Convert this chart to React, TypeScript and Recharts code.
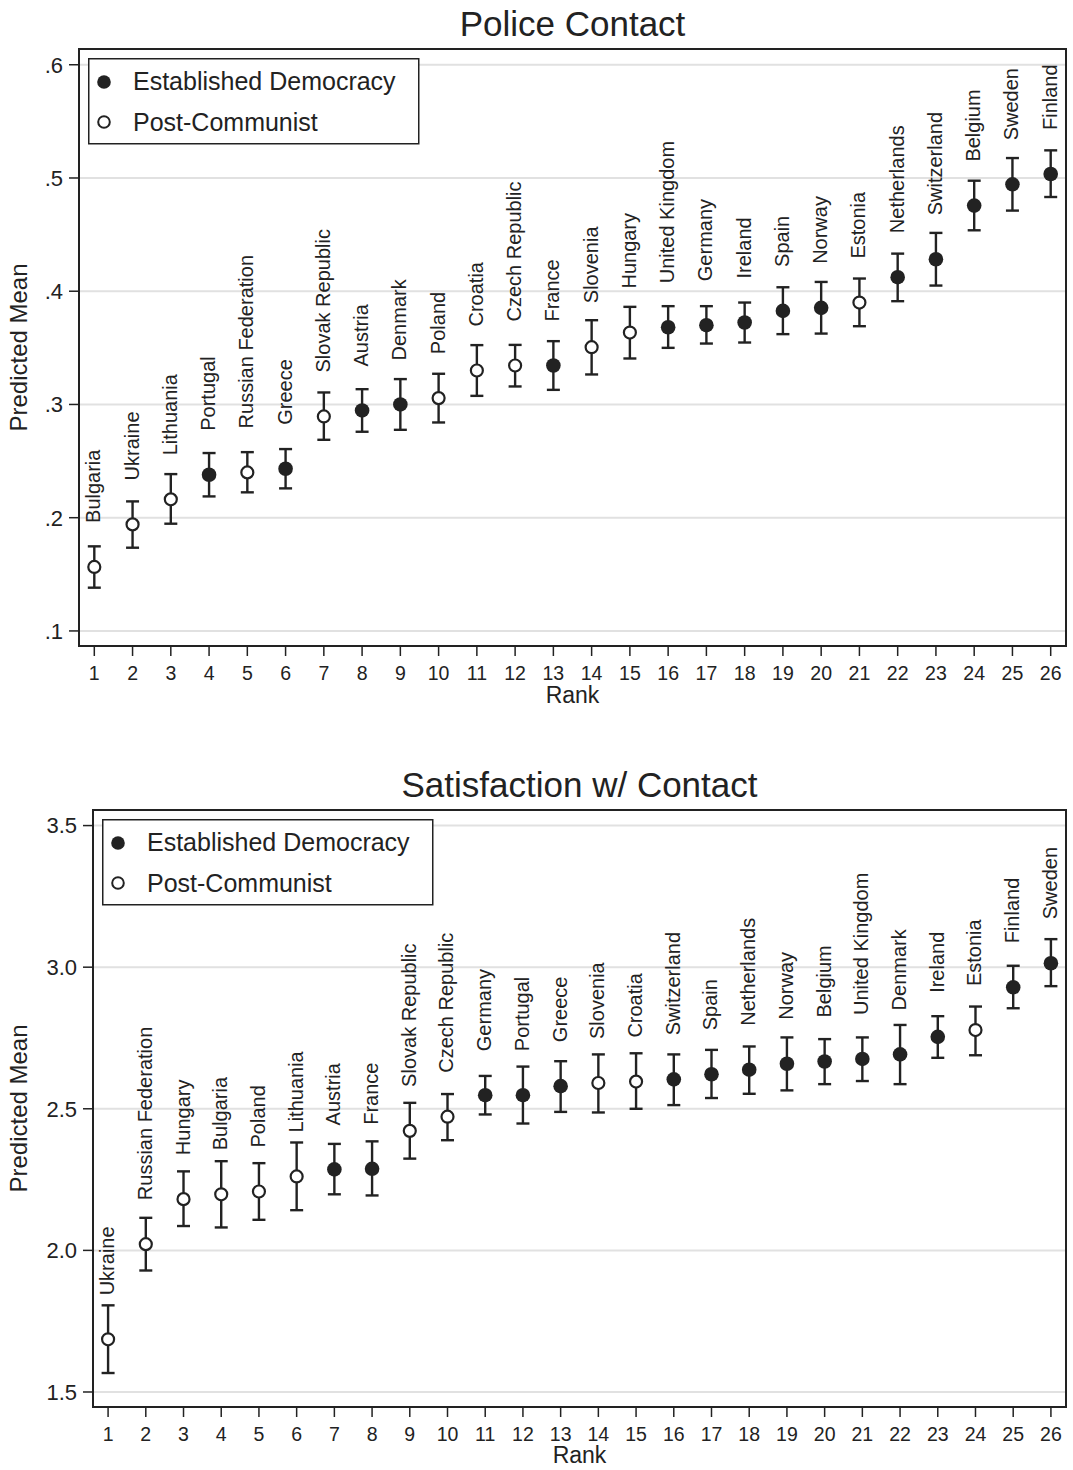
import React from 'react';
import {
  ComposedChart, Scatter, ErrorBar, XAxis, YAxis, CartesianGrid, ReferenceArea,
} from 'recharts';

const INK = '#222222';
const FONT = '"Liberation Sans", Arial, Helvetica, sans-serif';

const ranks = [1, 2, 3, 4, 5, 6, 7, 8, 9, 10, 11, 12, 13, 14, 15, 16, 17, 18, 19, 20, 21, 22, 23, 24, 25, 26];

// Police Contact
const policeCountries = [
  'Bulgaria', 'Ukraine', 'Lithuania', 'Portugal', 'Russian Federation', 'Greece',
  'Slovak Republic', 'Austria', 'Denmark', 'Poland', 'Croatia', 'Czech Republic',
  'France', 'Slovenia', 'Hungary', 'United Kingdom', 'Germany', 'Ireland', 'Spain',
  'Norway', 'Estonia', 'Netherlands', 'Switzerland', 'Belgium', 'Sweden', 'Finland',
];
const policeMean = [
  0.1565, 0.1941, 0.2162, 0.2379, 0.24, 0.2432, 0.2894, 0.2947, 0.3, 0.3056, 0.33, 0.3344,
  0.3344, 0.3506, 0.3635, 0.3682, 0.37, 0.3724, 0.3826, 0.3853, 0.39, 0.4124, 0.4282,
  0.4756, 0.4944, 0.5035,
];
const policeLow = [
  0.1382, 0.1735, 0.1947, 0.2188, 0.2224, 0.2259, 0.2688, 0.2759, 0.2776, 0.2841, 0.3076,
  0.3159, 0.3129, 0.3265, 0.3406, 0.35, 0.3538, 0.3547, 0.3621, 0.3626, 0.3691, 0.3912,
  0.405, 0.4538, 0.4712, 0.4832,
];
const policeHigh = [
  0.1747, 0.2144, 0.2385, 0.2571, 0.2579, 0.2606, 0.3106, 0.3135, 0.3224, 0.3271, 0.3524,
  0.3526, 0.3559, 0.3744, 0.3862, 0.3868, 0.3868, 0.39, 0.4035, 0.4082, 0.4112, 0.4332,
  0.4515, 0.4976, 0.5176, 0.5244,
];
// E = Established Democracy, P = Post-Communist
const policeType = [
  'P', 'P', 'P', 'E', 'P', 'E', 'P', 'E', 'E', 'P', 'P', 'P', 'E',
  'P', 'P', 'E', 'E', 'E', 'E', 'E', 'P', 'E', 'E', 'E', 'E', 'E',
];
const policeTicks = [0.1, 0.2, 0.3, 0.4, 0.5, 0.6];

// Satisfaction w/ Contact
const satisCountries = [
  'Ukraine', 'Russian Federation', 'Hungary', 'Bulgaria', 'Poland', 'Lithuania', 'Austria',
  'France', 'Slovak Republic', 'Czech Republic', 'Germany', 'Portugal', 'Greece', 'Slovenia',
  'Croatia', 'Switzerland', 'Spain', 'Netherlands', 'Norway', 'Belgium', 'United Kingdom',
  'Denmark', 'Ireland', 'Estonia', 'Finland', 'Sweden',
];
const satisMean = [
  1.686, 2.022, 2.181, 2.198, 2.208, 2.261, 2.286, 2.288, 2.422, 2.472, 2.548, 2.548, 2.58,
  2.591, 2.596, 2.604, 2.622, 2.638, 2.659, 2.667, 2.676, 2.692, 2.754, 2.778, 2.929, 3.014,
];
const satisLow = [
  1.567, 1.929, 2.086, 2.081, 2.108, 2.142, 2.198, 2.194, 2.324, 2.389, 2.48, 2.448, 2.489,
  2.487, 2.5, 2.513, 2.538, 2.553, 2.565, 2.587, 2.598, 2.587, 2.68, 2.689, 2.855, 2.933,
];
const satisHigh = [
  1.806, 2.115, 2.279, 2.315, 2.308, 2.381, 2.376, 2.385, 2.521, 2.552, 2.616, 2.649, 2.668,
  2.692, 2.696, 2.692, 2.708, 2.72, 2.752, 2.746, 2.752, 2.796, 2.827, 2.861, 3.005, 3.099,
];
const satisType = [
  'P', 'P', 'P', 'P', 'P', 'P', 'E', 'E', 'P', 'P', 'E', 'E', 'E',
  'P', 'P', 'E', 'E', 'E', 'E', 'E', 'E', 'E', 'E', 'P', 'E', 'E',
];
const satisTicks = [1.5, 2.0, 2.5, 3.0, 3.5];

type Row = { rank: number; name: string; mean: number; err: [number, number]; type: string };

const buildRows = (names: string[], mean: number[], low: number[], high: number[], type: string[]): Row[] =>
  ranks.map((r, i) => ({
    rank: r,
    name: names[i],
    mean: mean[i],
    err: [mean[i] - low[i], high[i] - mean[i]],
    type: type[i],
  }));

const makeMarker = (hollow: boolean) => (props: any) => {
  const { cx, cy, payload } = props;
  if (cx == null || cy == null) return null;
  const lx = cx - 1;
  const ly = cy - 44;
  return (
    <g>
      <circle
        cx={cx}
        cy={cy}
        r={hollow ? 6 : 7.3}
        fill={hollow ? '#ffffff' : INK}
        stroke={INK}
        strokeWidth={hollow ? 2.2 : 0}
      />
      <text
        x={lx}
        y={ly}
        transform={`rotate(-90 ${lx} ${ly})`}
        textAnchor="start"
        dominantBaseline="central"
        fontSize={20}
        fontFamily={FONT}
        fill={INK}
      >
        {payload.name}
      </text>
    </g>
  );
};

const YTitle = (props: any) => {
  const vb = props.viewBox || { x: 0, y: 0, width: 0, height: 0 };
  const x = vb.x + 18;
  const y = vb.y + vb.height / 2;
  return (
    <text x={x} y={y} transform={`rotate(-90 ${x} ${y})`} textAnchor="middle" dominantBaseline="central"
      fontSize={24} fontFamily={FONT} fill={INK}>
      Predicted Mean
    </text>
  );
};

const XTitle = (props: any) => {
  const vb = props.viewBox || { x: 0, y: 0, width: 0, height: 0 };
  return (
    <text x={vb.x + vb.width / 2} y={vb.y + props.dy0} textAnchor="middle" fontSize={23} fontFamily={FONT} fill={INK}>
      Rank
    </text>
  );
};

const LegendBox = ({ left, top }: { left: number; top: number }) => (
  <svg width={332} height={87} style={{ position: 'absolute', left, top }}>
    <rect x={0.75} y={0.75} width={330} height={85} fill="#fff" stroke={INK} strokeWidth={1.5} />
    <circle cx={16} cy={24} r={6.8} fill={INK} />
    <text x={45} y={32} fontSize={25} fontFamily={FONT} fill={INK}>Established Democracy</text>
    <circle cx={16} cy={64} r={5.8} fill="#fff" stroke={INK} strokeWidth={2} />
    <text x={45} y={72.5} fontSize={25} fontFamily={FONT} fill={INK}>Post-Communist</text>
  </svg>
);

type PanelProps = {
  top: number;
  height: number;
  title: string;
  titleTop: number;
  rows: Row[];
  yDomain: [number, number];
  yTicks: number[];
  yFormat: (v: number) => string;
  yAxisWidth: number;
  marginTop: number;
  xAxisHeight: number;
  rankDy: number;
  legendTop: number;
};

const Panel = (p: PanelProps) => {
  const filled = p.rows.filter((r) => r.type === 'E');
  const hollow = p.rows.filter((r) => r.type === 'P');
  const plotLeft = p.yAxisWidth;
  const plotRight = 1066;
  return (
    <div style={{ position: 'absolute', left: 0, top: p.top, width: 1073, height: p.height }}>
      <div
        style={{
          position: 'absolute', left: plotLeft, width: plotRight - plotLeft, top: p.titleTop,
          textAlign: 'center', fontSize: 35, lineHeight: '35px', color: INK, fontFamily: FONT,
        }}
      >
        {p.title}
      </div>
      <ComposedChart width={1073} height={p.height} margin={{ top: p.marginTop, right: 7, bottom: 0, left: 0 }}>
        <CartesianGrid vertical={false} stroke="#e1e1e1" strokeWidth={2} />
        <XAxis
          type="number"
          dataKey="rank"
          domain={[0.6, 26.4]}
          ticks={ranks}
          interval={0}
          height={p.xAxisHeight}
          tickSize={10}
          tickMargin={10}
          tick={{ fill: INK, fontSize: 19.5, fontFamily: FONT }}
          tickLine={{ stroke: INK, strokeWidth: 1.5 }}
          axisLine={{ stroke: INK, strokeWidth: 2 }}
          label={<XTitle dy0={p.rankDy} />}
        />
        <YAxis
          type="number"
          domain={p.yDomain}
          ticks={p.yTicks}
          interval={0}
          width={p.yAxisWidth}
          tickSize={10}
          tickMargin={6}
          tickFormatter={p.yFormat}
          tick={{ fill: INK, fontSize: 22, fontFamily: FONT }}
          tickLine={{ stroke: INK, strokeWidth: 1.5 }}
          axisLine={{ stroke: INK, strokeWidth: 2 }}
          label={<YTitle />}
        />
        <ReferenceArea
          x1={0.6}
          x2={26.4}
          y1={p.yDomain[0]}
          y2={p.yDomain[1]}
          fill="none"
          fillOpacity={0}
          stroke={INK}
          strokeWidth={2}
          ifOverflow="visible"
        />
        <Scatter data={filled} dataKey="mean" isAnimationActive={false} shape={makeMarker(false)}>
          <ErrorBar dataKey="err" direction="y" width={6.5} stroke={INK} strokeWidth={2.4} isAnimationActive={false} />
        </Scatter>
        <Scatter data={hollow} dataKey="mean" isAnimationActive={false} shape={makeMarker(true)}>
          <ErrorBar dataKey="err" direction="y" width={6.5} stroke={INK} strokeWidth={2.4} isAnimationActive={false} />
        </Scatter>
      </ComposedChart>
      <LegendBox left={plotLeft + 9} top={p.legendTop} />
    </div>
  );
};

const policeRows = buildRows(policeCountries, policeMean, policeLow, policeHigh, policeType);
const satisRows = buildRows(satisCountries, satisMean, satisLow, satisHigh, satisType);

export default function App() {
  return (
    <div style={{ position: 'absolute', left: 0, top: 0, width: 1073, height: 1470, background: '#fff', fontFamily: FONT }}>
      <Panel
        top={0}
        height={720}
        title="Police Contact"
        titleTop={6}
        rows={policeRows}
        yDomain={[0.0867, 0.6139]}
        yTicks={policeTicks}
        yFormat={(v: number) => v.toFixed(1).replace(/^0/, '')}
        yAxisWidth={79}
        marginTop={49}
        xAxisHeight={74}
        rankDy={57}
        legendTop={58}
      />
      <Panel
        top={760}
        height={710}
        title="Satisfaction w/ Contact"
        titleTop={7}
        rows={satisRows}
        yDomain={[1.447, 3.555]}
        yTicks={satisTicks}
        yFormat={(v: number) => v.toFixed(1)}
        yAxisWidth={93}
        marginTop={50}
        xAxisHeight={63}
        rankDy={56}
        legendTop={59}
      />
    </div>
  );
}
